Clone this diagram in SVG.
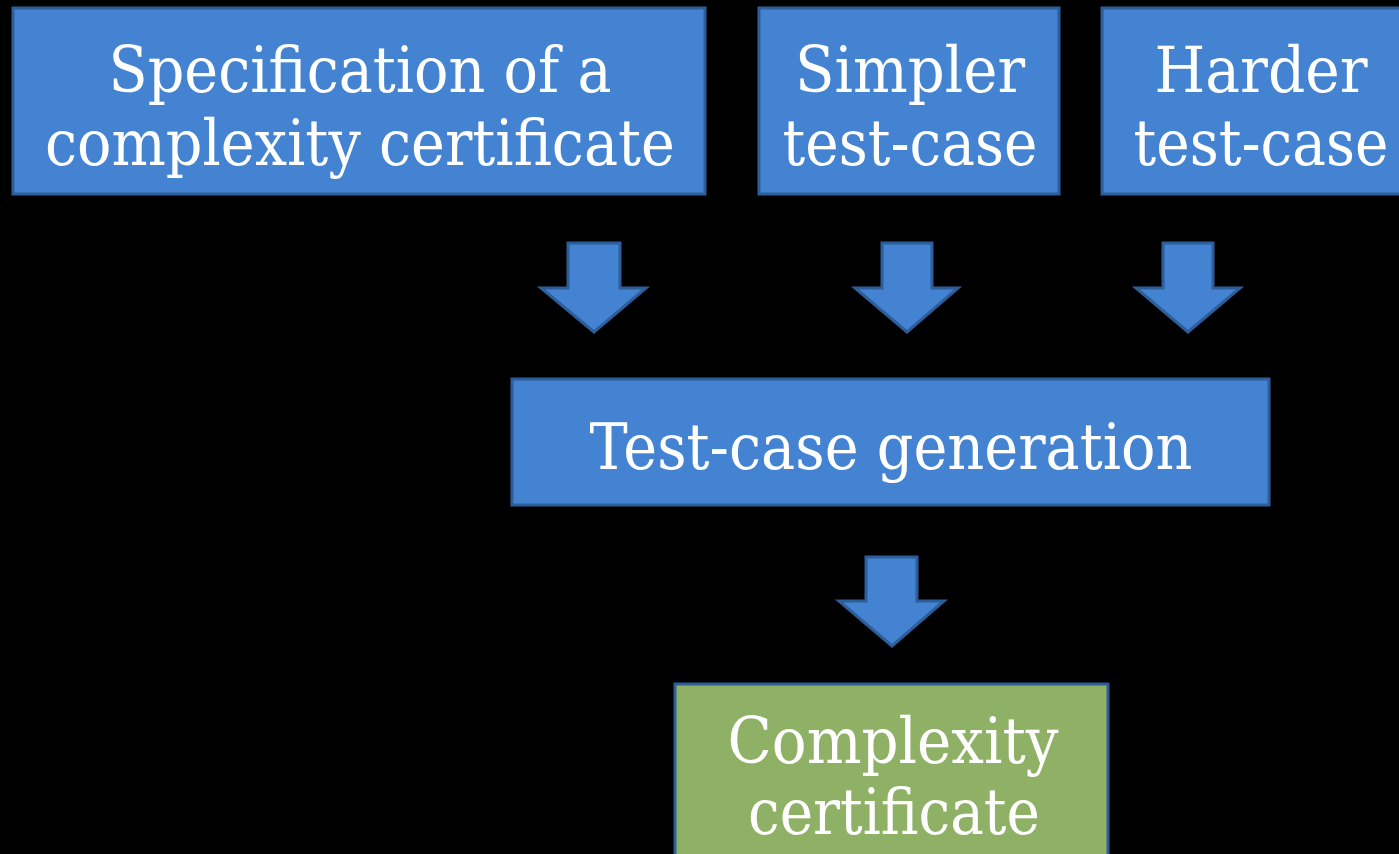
<svg xmlns="http://www.w3.org/2000/svg" width="1399" height="854" viewBox="0 0 1399 854">
<style>
.box{fill:#4383D1;stroke:#2E5E99;stroke-width:3}
.green{fill:#8FB166;stroke:#2E5E99;stroke-width:3}
.arr{fill:#4383D1;stroke:#2E5E99;stroke-width:3;stroke-linejoin:miter}
.t{font-family:"DejaVu Serif","Liberation Serif",serif;font-size:63px;fill:#FFFFFF;text-anchor:middle}
</style>
<rect width="1399" height="854" fill="#000000"/>
<g id="spec">
<rect class="box" x="13" y="8" width="692" height="186"/>
<text class="t" x="360" y="92" textLength="503" lengthAdjust="spacingAndGlyphs">Specification of a</text>
<text class="t" x="360" y="165" textLength="630" lengthAdjust="spacingAndGlyphs">complexity certificate</text>
</g>
<g id="simpler">
<rect class="box" x="759" y="8" width="300" height="186"/>
<text class="t" x="910" y="92" textLength="230" lengthAdjust="spacingAndGlyphs">Simpler</text>
<text class="t" x="910" y="165" textLength="255" lengthAdjust="spacingAndGlyphs">test-case</text>
</g>
<g id="harder">
<rect class="box" x="1102" y="8" width="310" height="186"/>
<text class="t" x="1261" y="92" textLength="213" lengthAdjust="spacingAndGlyphs">Harder</text>
<text class="t" x="1261" y="165" textLength="255" lengthAdjust="spacingAndGlyphs">test-case</text>
</g>
<g id="gen">
<rect class="box" x="512" y="379" width="757" height="126"/>
<text class="t" x="891" y="469" textLength="603" lengthAdjust="spacingAndGlyphs">Test-case generation</text>
</g>
<g id="cert">
<rect class="green" x="675" y="684" width="433" height="180"/>
<text class="t" x="893" y="763" textLength="331" lengthAdjust="spacingAndGlyphs">Complexity</text>
<text class="t" x="894" y="834" textLength="292" lengthAdjust="spacingAndGlyphs">certificate</text>
</g>
<g id="connectors">
<polygon class="arr" points="568,243 620,243 620,288 646,288 594,332 541,288 568,288"/>
<polygon class="arr" points="882,243 932,243 932,288 958,288 907,332 855,288 882,288"/>
<polygon class="arr" points="1163,243 1213,243 1213,288 1240,288 1188,332 1136,288 1163,288"/>
<polygon class="arr" points="866,557 917,557 917,601 944,601 892,646 839,601 866,601"/>
</g>
</svg>
